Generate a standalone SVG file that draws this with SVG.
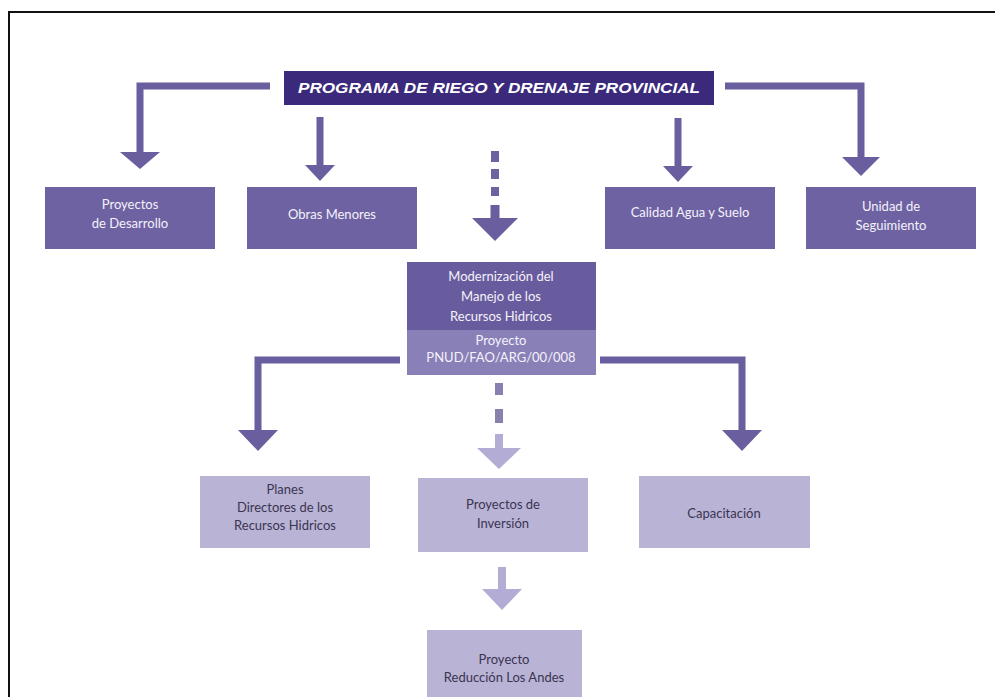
<svg xmlns="http://www.w3.org/2000/svg" width="995" height="697" viewBox="0 0 995 697">
<style>
.frame{stroke:#111;stroke-width:2;fill:none}
.conn{stroke:#6b5e9e;stroke-width:7;fill:none}
.head{fill:#6b5e9e}
.dconn{stroke:#8a80b0;stroke-width:8;fill:none}
.lconn{stroke:#b3acd4;stroke-width:8;fill:none}
.lhead{fill:#b3acd4}
.box{fill:#6e62a3}
.boxd{fill:#695c9e}
.boxm{fill:#8a80b8}
.boxl{fill:#b9b3d6}
.t{font-family:Lato,"Open Sans","Liberation Sans",sans-serif;font-size:13px;text-anchor:middle}
.tw{fill:#f4f2fa}
.tk{fill:#3a3550}
.title{font-family:"Liberation Sans",Arial,sans-serif;font-size:15px;font-weight:bold;font-style:italic;fill:#fff;text-anchor:middle}
</style>
<rect width="995" height="697" fill="#fff"/>
<path class="frame" d="M9,697 V12 H995"/>

<g id="connectors">
  <!-- top left L -->
  <path class="conn" d="M270,86 H140 V152"/>
  <polygon class="head" points="120,152 160,152 140,169"/>
  <!-- Obras -->
  <path class="conn" d="M320,117 V165"/>
  <polygon class="head" points="305,165 335,165 320,181"/>
  <!-- dashed to middle -->
  <path class="dconn" d="M495,151 V162 M495,169 V179 M495,187 V196" style="stroke:#6e62a3"/>
  <path class="conn" d="M495,205 V219" style="stroke-width:9"/>
  <polygon class="head" points="472,218 518,218 495,241"/>
  <!-- Calidad -->
  <path class="conn" d="M678,118 V166"/>
  <polygon class="head" points="663,166 693,166 678,182"/>
  <!-- top right L -->
  <path class="conn" d="M725,86 H861 V157"/>
  <polygon class="head" points="842,157 880,157 861,176"/>
  <!-- middle left L -->
  <path class="conn" d="M400,360 H258 V430"/>
  <polygon class="head" points="238,430 278,430 258,451"/>
  <!-- middle right L -->
  <path class="conn" d="M600,360 H742 V430"/>
  <polygon class="head" points="722,430 762,430 742,451"/>
  <!-- middle dashed -->
  <path class="dconn" d="M499,383 V395 M499,409 V423"/>
  <path class="lconn" d="M499,434 V449"/>
  <polygon class="lhead" points="477,448 521,448 499,469"/>
  <!-- inversion to andes -->
  <path class="lconn" d="M502,567 V590"/>
  <polygon class="lhead" points="482,589 522,589 502,610"/>
</g>

<g id="title">
  <rect x="284" y="71" width="430" height="34" fill="#3b2a7c"/>
  <text class="title" x="499" y="93" textLength="402" lengthAdjust="spacingAndGlyphs">PROGRAMA DE RIEGO Y DRENAJE PROVINCIAL</text>
</g>

<g id="proyectos-desarrollo">
  <rect class="box" x="45" y="187" width="170" height="62"/>
  <text class="t tw" x="130" y="209">Proyectos</text>
  <text class="t tw" x="130" y="228">de Desarrollo</text>
</g>
<g id="obras-menores">
  <rect class="box" x="247" y="187" width="170" height="62"/>
  <text class="t tw" x="332" y="219">Obras Menores</text>
</g>
<g id="calidad">
  <rect class="box" x="605" y="187" width="170" height="62"/>
  <text class="t tw" x="690" y="217">Calidad Agua y Suelo</text>
</g>
<g id="unidad">
  <rect class="box" x="806" y="187" width="170" height="62"/>
  <text class="t tw" x="891" y="211">Unidad de</text>
  <text class="t tw" x="891" y="230">Seguimiento</text>
</g>

<g id="modernizacion">
  <rect class="boxd" x="407" y="262" width="189" height="68"/>
  <rect class="boxm" x="407" y="330" width="189" height="45"/>
  <text class="t tw" x="501" y="281">Modernización del</text>
  <text class="t tw" x="501" y="301">Manejo de los</text>
  <text class="t tw" x="501" y="321">Recursos Hidricos</text>
  <text class="t tw" x="501" y="345">Proyecto</text>
  <text class="t tw" x="501" y="362">PNUD/FAO/ARG/00/008</text>
</g>

<g id="planes">
  <rect class="boxl" x="200" y="476" width="170" height="72"/>
  <text class="t tk" x="285" y="494">Planes</text>
  <text class="t tk" x="285" y="512">Directores de los</text>
  <text class="t tk" x="285" y="530">Recursos Hidricos</text>
</g>
<g id="inversion">
  <rect class="boxl" x="418" y="478" width="170" height="74"/>
  <text class="t tk" x="503" y="509">Proyectos de</text>
  <text class="t tk" x="503" y="528">Inversión</text>
</g>
<g id="capacitacion">
  <rect class="boxl" x="639" y="476" width="171" height="72"/>
  <text class="t tk" x="724" y="518">Capacitación</text>
</g>
<g id="reduccion">
  <rect class="boxl" x="427" y="630" width="155" height="67"/>
  <text class="t tk" x="504" y="664">Proyecto</text>
  <text class="t tk" x="504" y="682">Reducción Los Andes</text>
</g>
</svg>
